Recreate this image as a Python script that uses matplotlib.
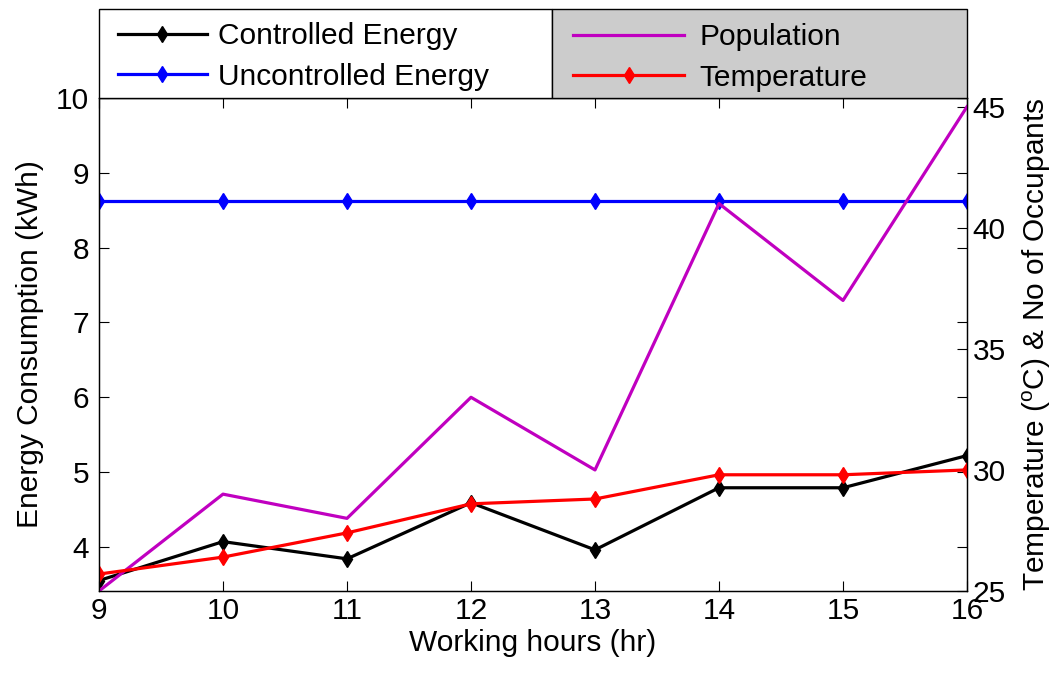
import matplotlib
matplotlib.use("Agg")
import matplotlib.pyplot as plt
from matplotlib.patches import Rectangle

plt.rcParams['font.family'] = ['Liberation Sans', 'DejaVu Sans']
plt.rcParams['mathtext.fontset'] = 'custom'
plt.rcParams['mathtext.rm'] = 'Liberation Sans'
plt.rcParams['mathtext.it'] = 'Liberation Sans'

hours = [9, 10, 11, 12, 13, 14, 15, 16]
controlled = [3.55, 4.07, 3.84, 4.59, 3.96, 4.79, 4.79, 5.22]
uncontrolled = [8.62, 8.62, 8.62, 8.62, 8.62, 8.62, 8.62, 8.62]
population = [25, 29, 28, 33, 30, 41, 37, 45]
temperature = [25.7, 26.4, 27.4, 28.6, 28.8, 29.8, 29.8, 30.0]
left_ticks = [4, 5, 6, 7, 8, 9, 10]
right_ticks = [25, 30, 35, 40, 45]

W, H = 1057, 675
FS = 21.5
fig = plt.figure(figsize=(W/100, H/100), dpi=100)
ax = fig.add_axes([99/W, 1-591/H, (967-99)/W, (591-98)/H])
ax2 = ax.twinx()

l1, = ax.plot(hours, controlled, color='black', lw=2.3, marker='d', ms=8.5, label='Controlled Energy')
l2, = ax.plot(hours, uncontrolled, color='blue', lw=2.3, marker='d', ms=8.5, label='Uncontrolled Energy')
l3, = ax2.plot(hours, population, color='#c000c0', lw=2.3, label='Population')
l4, = ax2.plot(hours, temperature, color='red', lw=2.3, marker='d', ms=8.5, label='Temperature')

ax.set_xlim(9, 16)
ax.set_ylim(3.41, 10)
ax2.set_ylim(25, 45.36)
ax.set_xticks(hours)
ax.set_yticks(left_ticks)
ax2.set_yticks(right_ticks)

ax.tick_params(axis='both', direction='in', length=7, width=0.8, labelsize=FS,
               top=True, right=True, colors='black')
ax.tick_params(axis='y', pad=7)
ax.tick_params(axis='x', pad=4)
ax2.tick_params(axis='y', direction='in', length=7, width=0.8, labelsize=FS, pad=4)

for a in (ax, ax2):
    for s in a.spines.values():
        s.set_linewidth(0.9)
        s.set_color('black')

ax.set_xlabel('Working hours (hr)', fontsize=FS, labelpad=3)
ax.set_ylabel('Energy Consumption (kWh)', fontsize=FS, labelpad=9)
ax2.set_ylabel('Temperature ($^{\\mathrm{o}}$C) & No of Occupants', fontsize=FS, labelpad=11)

# legend boxes
top_px, bot_px = 9, 98
fig.add_artist(Rectangle((99/W, 1-bot_px/H), (552-99)/W, (bot_px-top_px)/H,
                         transform=fig.transFigure, facecolor='white', edgecolor='black', lw=1.0))
fig.add_artist(Rectangle((552/W, 1-bot_px/H), (967-552)/W, (bot_px-top_px)/H,
                         transform=fig.transFigure, facecolor='#cccccc', edgecolor='black', lw=1.0))

common = dict(loc='upper left', bbox_transform=fig.transFigure, fontsize=FS, frameon=False,
              borderpad=0, borderaxespad=0, labelspacing=0.43)
leg1 = fig.legend(handles=[l1, l2], bbox_to_anchor=(118/W, 1-22/H),
                  handlelength=2.97, handletextpad=0.37, **common)
leg2 = fig.legend(handles=[l3, l4], bbox_to_anchor=(573/W, 1-23/H),
                  handlelength=3.73, handletextpad=0.5, **common)

fig.savefig('out.png', dpi=100)
